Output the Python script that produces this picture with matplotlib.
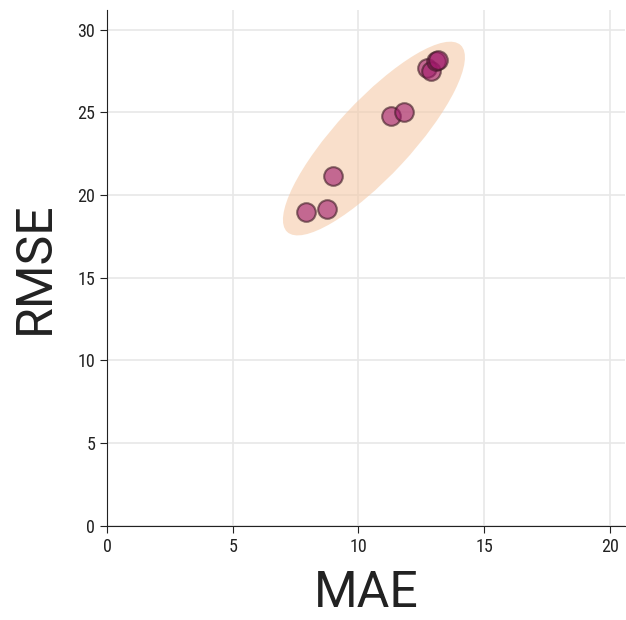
import numpy as np
import matplotlib
matplotlib.use("Agg")
import matplotlib.pyplot as plt
from matplotlib.patches import Ellipse
import matplotlib.transforms as transforms

plt.rcParams['font.family'] = ['Roboto Condensed', 'DejaVu Sans']
plt.rcParams['font.stretch'] = 'condensed'

# values
mae = [7.9, 8.75, 9.0, 11.3, 11.8, 12.75, 12.9, 13.1, 13.15]
rmse = [18.95, 19.15, 21.15, 24.8, 25.05, 27.7, 27.5, 28.1, 28.2]
x_ticks = [0, 5, 10, 15, 20]
y_ticks = [0, 5, 10, 15, 20, 25, 30]

# shaded region around the points: centre, half major axis, half minor axis (data units)
ell_center = (10.62, 23.42)
ell_major = (3.45, 5.65)
ell_minor = (-1.10, 1.55)

fig = plt.figure(figsize=(6.26, 6.2), dpi=100)
ax = fig.add_axes([0.171, 0.152, 0.827, 0.832])

ell = Ellipse((0, 0), 2, 2, facecolor='#f5cba9', alpha=0.6, edgecolor='none', zorder=1)
tr = transforms.Affine2D(np.array([[ell_major[0], ell_minor[0], ell_center[0]],
                                   [ell_major[1], ell_minor[1], ell_center[1]],
                                   [0, 0, 1]]))
ell.set_transform(tr + ax.transData)
ax.add_patch(ell)

ax.scatter(mae, rmse, s=180, color='#a0196b', alpha=0.6,
           edgecolors='#3b1a22', linewidths=1.5, zorder=3)

ax.set_xlim(0, 20.6)
ax.set_ylim(0, 31.2)
ax.set_xticks(x_ticks)
ax.set_yticks(y_ticks)
ax.tick_params(labelsize=13, colors='#222222', length=5)
label_font = dict(fontsize=36, color='#222222', family=['Roboto', 'DejaVu Sans'],
                  fontweight='normal', fontstretch='normal')
ax.set_xlabel('MAE', labelpad=10, **label_font)
ax.set_ylabel('RMSE', labelpad=13, **label_font)
ax.grid(color='#e8e8e8', linewidth=1.2, zorder=0)
ax.set_axisbelow(True)
for s in ['top', 'right']:
    ax.spines[s].set_visible(False)
for s in ['left', 'bottom']:
    ax.spines[s].set_color('#222222')

fig.savefig('out.png', dpi=100)
